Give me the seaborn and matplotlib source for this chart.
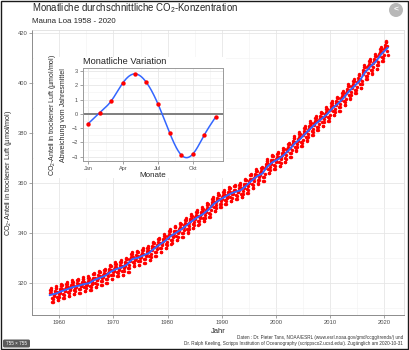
import numpy as np
import pandas as pd
import matplotlib
matplotlib.use("Agg")
import matplotlib.pyplot as plt
from matplotlib.patches import Rectangle, Circle, FancyBboxPatch
import seaborn as sns

# Jahresmittel Mauna Loa (ppm), 1958 - 2020
years = list(range(1958, 2021))
annual_mean = [315.23, 315.98, 316.91, 317.64, 318.45, 318.99, 319.62, 320.04, 321.37, 322.18,
               323.05, 324.62, 325.68, 326.32, 327.46, 329.68, 330.19, 331.12, 332.03, 333.84,
               335.41, 336.84, 338.76, 340.12, 341.48, 343.15, 344.87, 346.35, 347.61, 349.31,
               351.69, 353.20, 354.45, 355.70, 356.54, 357.21, 358.96, 360.97, 362.74, 363.88,
               366.84, 368.54, 369.71, 371.32, 373.45, 375.98, 377.70, 379.98, 382.09, 384.02,
               385.83, 387.64, 390.10, 391.85, 394.06, 396.74, 398.81, 401.01, 404.41, 406.76,
               408.72, 411.66, 414.24]

# Monatliche Abweichung vom Jahresmittel (Inset)
months = [1, 2, 3, 4, 5, 6, 7, 8, 9, 10, 11, 12]
month_ticks = [1, 4, 7, 10]
month_labels = ["Jan", "Apr", "Jul", "Okt"]
seasonal = [-0.68, 0.09, 0.93, 2.19, 2.80, 2.21, 0.70, -1.31, -2.87, -2.82, -1.47, -0.19]

# monatliche Werte Maerz 1958 - September 2020
rows = []
for y, m_ in zip(years, annual_mean):
    for mo, s in zip(months, seasonal):
        if (y == 1958 and mo < 3) or (y == 2020 and mo > 9):
            continue
        rows.append({"Jahr": y + (mo - 0.5) / 12, "co2": m_ + s})
monthly = pd.DataFrame(rows)
trend = pd.DataFrame({"Jahr": [y + 0.5 for y in years], "co2": annual_mean})
trend.loc[0, "Jahr"] = 1958.2
trend.loc[len(trend) - 1, "Jahr"] = 2020.7

# natuerlicher kubischer Spline durch die 12 Monatswerte
xk = np.array(months, dtype=float)
yk = np.array(seasonal)
n = len(xk)
h = np.diff(xk)
A = np.zeros((n, n))
b = np.zeros(n)
A[0, 0] = A[-1, -1] = 1
for i in range(1, n - 1):
    A[i, i - 1] = h[i - 1]
    A[i, i] = 2 * (h[i - 1] + h[i])
    A[i, i + 1] = h[i]
    b[i] = 6 * ((yk[i + 1] - yk[i]) / h[i] - (yk[i] - yk[i - 1]) / h[i - 1])
M = np.linalg.solve(A, b)
xs = np.linspace(1, 12, 300)
idx = np.clip(np.searchsorted(xk, xs) - 1, 0, n - 2)
t0 = xk[idx]
t1 = xk[idx + 1]
hh = t1 - t0
ys = (M[idx] * (t1 - xs) ** 3 / (6 * hh) + M[idx + 1] * (xs - t0) ** 3 / (6 * hh)
      + (yk[idx] / hh - M[idx] * hh / 6) * (t1 - xs) + (yk[idx + 1] / hh - M[idx + 1] * hh / 6) * (xs - t0))
curve = pd.DataFrame({"Monat": xs, "abw": ys})
points = pd.DataFrame({"Monat": months, "abw": seasonal})

sns.set_style("whitegrid")
plt.rcParams["font.family"] = ["Liberation Sans", "DejaVu Sans"]
plt.rcParams["mathtext.fontset"] = "custom"
plt.rcParams["mathtext.rm"] = "Liberation Sans"

W, H = 409, 350
fig = plt.figure(figsize=(W / 100, H / 100), dpi=100)
fig.patch.set_facecolor("white")

grey_txt = "#4d4d4d"

# --- Hauptdiagramm ---
ax = fig.add_axes([32.3 / W, 1 - 315 / H, (404 - 32.3) / W, (315 - 30.3) / H])
ax.set_zorder(0)
sns.scatterplot(data=monthly, x="Jahr", y="co2", ax=ax, color="#ff0000", s=6, linewidth=0, zorder=3)
sns.lineplot(data=trend, x="Jahr", y="co2", ax=ax, color="#3366ff", linewidth=1.4, zorder=4)
ax.set_xlim(1955.0, 2023.7)
ax.set_ylim(307.3, 421.2)
ax.set_xticks([1960, 1970, 1980, 1990, 2000, 2010, 2020])
ax.set_xticks([1955, 1965, 1975, 1985, 1995, 2005, 2015], minor=True)
ax.set_yticks([320, 340, 360, 380, 400, 420])
ax.set_yticks([310, 330, 350, 370, 390, 410], minor=True)
ax.grid(True, which="major", color="#e6e6e6", linewidth=0.6)
ax.grid(True, which="minor", color="#f2f2f2", linewidth=0.4)
ax.tick_params(axis="both", which="major", labelsize=4.2, colors="#7f7f7f", labelcolor=grey_txt,
               length=2, width=0.5, pad=1.5, direction="out", left=True, bottom=True)
ax.tick_params(which="minor", length=0)
for s in ["left", "bottom"]:
    ax.spines[s].set_color("#8c8c8c")
    ax.spines[s].set_linewidth(0.7)
for s in ["top", "right"]:
    ax.spines[s].set_color("#d9d9d9")
    ax.spines[s].set_linewidth(0.5)
ax.set_xlabel("Jahr", fontsize=5.5, labelpad=2)
ax.set_ylabel(r"CO$_{2}$-Anteil in trockener Luft (µmol/mol)", fontsize=5.2, labelpad=3)

# weisser Hintergrund fuer das Inset
fig.add_artist(Rectangle((34 / W, 1 - 178 / H), 192 / W, 121 / H, transform=fig.transFigure,
                         facecolor="white", edgecolor="none", zorder=1))

# --- Inset ---
axi = fig.add_axes([82.7 / W, 1 - 161 / H, 140 / W, 92.7 / H])
axi.set_zorder(2)
axi.axhline(0, color="#7f7f7f", linewidth=1.4, zorder=2)
sns.lineplot(data=curve, x="Monat", y="abw", ax=axi, color="#3366ff", linewidth=1.1, zorder=3)
sns.scatterplot(data=points, x="Monat", y="abw", ax=axi, color="#ff0000", s=10, linewidth=0, zorder=4)
axi.set_xlim(0.52, 12.58)
axi.set_ylim(-3.3, 3.19)
axi.set_xticks(month_ticks)
axi.set_xticklabels(month_labels)
axi.set_xticks([2.5, 5.5, 8.5, 11.5], minor=True)
axi.set_yticks([-3, -2, -1, 0, 1, 2, 3])
axi.set_yticks([-2.5, -1.5, -0.5, 0.5, 1.5, 2.5], minor=True)
axi.grid(True, which="major", color="#e6e6e6", linewidth=0.6)
axi.grid(True, which="minor", color="#f2f2f2", linewidth=0.4)
axi.tick_params(axis="both", which="major", labelsize=4, colors="#7f7f7f", labelcolor=grey_txt,
                length=2, width=0.5, pad=1.5, direction="out", left=True, bottom=True)
axi.tick_params(which="minor", length=0)
for s in axi.spines.values():
    s.set_color("#9a9a9a")
    s.set_linewidth(0.7)
axi.set_xlabel("Monate", fontsize=5.8, labelpad=1)
axi.set_ylabel("CO$_{2}$-Anteil in trockener Luft (µmol/mol)\nAbweichung vom Jahresmittel",
               fontsize=5.0, labelpad=3, linespacing=1.5)
axi.set_title("Monatliche Variation", fontsize=6.7, loc="left", pad=3)

# --- Titel und Quellen ---
fig.text(32 / W, 1 - 10.8 / H, r"Monatliche durchschnittliche CO$_{2}$-Konzentration",
         fontsize=6.9, va="baseline", ha="left")
fig.text(32 / W, 1 - 22.8 / H, "Mauna Loa 1958 - 2020", fontsize=5.7, va="baseline", ha="left")
fig.text(403 / W, 1 - 337.3 / H,
         "Daten : Dr. Pieter Tans, NOAA/ESRL (www.esrl.noaa.gov/gmd/ccgg/trends/) und",
         fontsize=3.3, ha="right", va="center", color="#333333")
fig.text(403 / W, 1 - 344 / H,
         "Dr. Ralph Keeling, Scripps Institution of Oceanography (scrippsco2.ucsd.edu/). Zugänglich am 2020-10-31",
         fontsize=3.3, ha="right", va="center", color="#333333")

# Bildschirmfoto-Rahmen, Groessenhinweis und Zurueck-Knopf
fig.add_artist(Rectangle((0.5 / W, 1.5 / H), (W - 2) / W, (H - 2.2) / H, transform=fig.transFigure,
                         facecolor="none", edgecolor="#1a1a1a", linewidth=1.0, zorder=5))
fig.add_artist(FancyBboxPatch((3 / W, 2.5 / H), 27 / W, 8 / H, boxstyle="round,pad=0,rounding_size=0.004",
                              transform=fig.transFigure, facecolor="#5a5a5a", edgecolor="none", zorder=6))
fig.text(16.5 / W, 6.5 / H, "755 × 755", fontsize=3.3, color="white", ha="center", va="center", zorder=7)
axc = fig.add_axes([389 / W, 1 - 17 / H, 14 / W, 14 / H])
axc.set_zorder(6)
axc.axis("off")
axc.add_patch(Circle((0.5, 0.5), 0.5, facecolor="#b8b8b8", edgecolor="none"))
axc.text(0.48, 0.5, "<", color="white", fontsize=6, fontweight="bold", ha="center", va="center")
axc.set_xlim(0, 1)
axc.set_ylim(0, 1)

fig.savefig("out.png", dpi=100)
